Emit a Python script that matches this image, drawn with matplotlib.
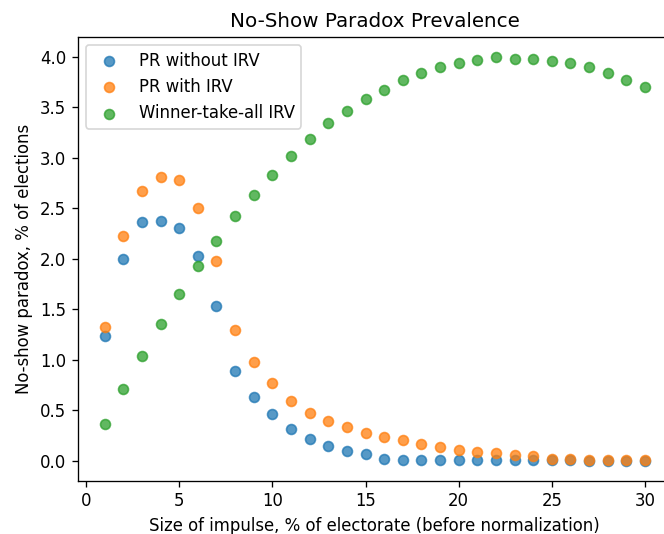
import matplotlib
matplotlib.use("Agg")
import matplotlib.pyplot as plt

impulse = list(range(1, 31))

pr_without_irv = [1.23, 2.00, 2.36, 2.37, 2.30, 2.03, 1.53, 0.89, 0.63, 0.46,
                  0.31, 0.21, 0.14, 0.09, 0.06, 0.02, 0.01, 0.01, 0.01, 0.01,
                  0.01, 0.01, 0.01, 0.01, 0.01, 0.01, 0.00, 0.00, 0.00, 0.00]
pr_with_irv = [1.32, 2.22, 2.67, 2.81, 2.78, 2.50, 1.98, 1.29, 0.98, 0.77,
               0.59, 0.47, 0.39, 0.33, 0.27, 0.23, 0.20, 0.16, 0.13, 0.10,
               0.08, 0.07, 0.05, 0.04, 0.02, 0.02, 0.01, 0.01, 0.01, 0.01]
wta_irv = [0.36, 0.71, 1.04, 1.35, 1.65, 1.93, 2.18, 2.42, 2.63, 2.83,
           3.02, 3.19, 3.34, 3.46, 3.58, 3.67, 3.77, 3.84, 3.90, 3.94,
           3.97, 4.00, 3.98, 3.98, 3.96, 3.94, 3.90, 3.84, 3.77, 3.70]

dpi = 119
fig, ax = plt.subplots(figsize=(664 / dpi, 534 / dpi), dpi=dpi)
# the original was cropped on the right, so the axes run past the edge
fig.subplots_adjust(left=0.117, right=1.012, bottom=0.0998, top=0.9313)

ax.scatter(impulse, pr_without_irv, alpha=0.75, label="PR without IRV")
ax.scatter(impulse, pr_with_irv, alpha=0.75, label="PR with IRV")
ax.scatter(impulse, wta_irv, alpha=0.75, label="Winner-take-all IRV")

ax.set_title("No-Show Paradox Prevalence")
ax.set_xlabel("Size of impulse, % of electorate (before normalization)")
ax.set_ylabel("No-show paradox, % of elections")
ax.legend(loc="upper left")

plt.savefig("out.png", dpi=dpi)
plt.close(fig)
